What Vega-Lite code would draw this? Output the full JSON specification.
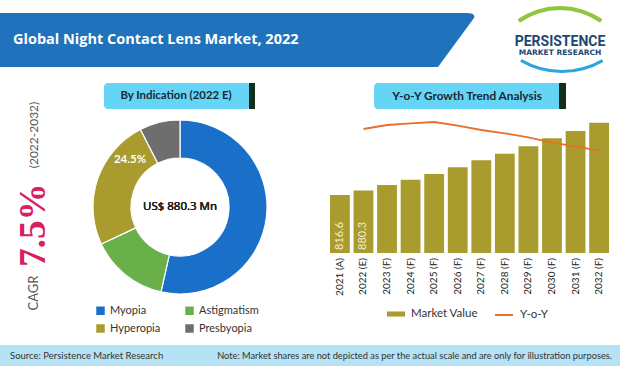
{
  "$schema": "https://vega.github.io/schema/vega-lite/v6.json",
  "width": 620,
  "height": 366,
  "autosize": {"type": "none"},
  "padding": 0,
  "background": "white",
  "config": {"view": {"stroke": null}, "font": "Lato", "legend": {"padding": 0, "labelFont": "Lato", "labelColor": "#333333", "title": null}},
  "datasets": {
    "market": [
      {"year": "2021 (A)", "value": 816.6, "yoy": null},
      {"year": "2022 (E)", "value": 880.3, "yoy": 7.8},
      {"year": "2023 (F)", "value": 956.1, "yoy": 8.2},
      {"year": "2024 (F)", "value": 1030.8, "yoy": 8.37},
      {"year": "2025 (F)", "value": 1111.4, "yoy": 8.5},
      {"year": "2026 (F)", "value": 1204.9, "yoy": 8.13},
      {"year": "2027 (F)", "value": 1303.2, "yoy": 7.7},
      {"year": "2028 (F)", "value": 1396.5, "yoy": 7.37},
      {"year": "2029 (F)", "value": 1500.3, "yoy": 6.97},
      {"year": "2030 (F)", "value": 1612.7, "yoy": 6.43},
      {"year": "2031 (F)", "value": 1715.0, "yoy": 6.07},
      {"year": "2032 (F)", "value": 1832.1, "yoy": 5.63}
    ],
    "share": [
      {"indication": "Myopia", "share": 0.535, "rank": 1},
      {"indication": "Astigmatism", "share": 0.145, "rank": 2},
      {"indication": "Hyperopia", "share": 0.245, "rank": 3},
      {"indication": "Presbyopia", "share": 0.075, "rank": 4}
    ],
    "one": [{}]
  },
  "layer": [
    {"data": {"name": "one"}, "mark": {"type": "point", "shape": "M-1,-0.1125L0.9417,-0.1125Q0.9833,-0.1125,0.975,-0.0917L0.825,0.1125L-1,0.1125Z", "size": 230400, "filled": true, "color": "#1f72bb", "opacity": 1, "strokeWidth": 0, "x": 240, "y": 40}, "encoding": {}},
    {"data": {"name": "one"}, "mark": {"type": "rule", "x": 491, "y": 22, "x2": 450, "y2": 70, "strokeWidth": 7, "strokeCap": "round", "color": "#1f72bb"}, "encoding": {}},
    {"data": {"name": "one"}, "mark": {"type": "rule", "x": 505, "y": 22, "x2": 474, "y2": 58, "strokeWidth": 6, "strokeCap": "round", "color": "#35ace4"}, "encoding": {}},
    {"data": {"name": "one"}, "mark": {"type": "text", "x": 13, "y": 40, "align": "left", "baseline": "middle", "text": "Global Night Contact Lens Market, 2022", "font": "Open Sans", "fontWeight": "bold", "fontSize": 14.5, "color": "white"}, "encoding": {}},
    {"data": {"name": "one"}, "mark": {"type": "arc", "x": 560, "y": 80, "innerRadius": 70, "outerRadius": 74, "theta": -0.61, "theta2": 0.61, "color": "#8dc63f"}, "encoding": {}},
    {"data": {"name": "one"}, "mark": {"type": "arc", "x": 562, "y": -10, "innerRadius": 80, "outerRadius": 83, "theta": 2.62, "theta2": 3.67, "color": "#2ba6df"}, "encoding": {}},
    {"data": {"name": "one"}, "mark": {"type": "text", "x": 560, "y": 46, "align": "center", "baseline": "alphabetic", "text": "PERSISTENCE", "font": "Roboto", "fontWeight": "bold", "fontSize": 14, "color": "#1d4873"}, "encoding": {}},
    {"data": {"name": "one"}, "mark": {"type": "text", "x": 560, "y": 55, "align": "center", "baseline": "alphabetic", "text": "MARKET RESEARCH", "font": "DejaVu Sans", "fontWeight": "bold", "fontSize": 7.5, "color": "#1d4873"}, "encoding": {}},
    {"data": {"name": "one"}, "mark": {"type": "rect", "x": 104, "x2": 251, "y": 83, "y2": 109, "cornerRadius": 4, "color": "#65d4f5"}, "encoding": {}},
    {"data": {"name": "one"}, "mark": {"type": "rect", "x": 249, "x2": 255, "y": 83, "y2": 109, "color": "#0f2e1c"}, "encoding": {}},
    {"data": {"name": "one"}, "mark": {"type": "text", "x": 176, "y": 96, "align": "center", "baseline": "middle", "text": "By Indication (2022 E)", "fontWeight": "bold", "fontSize": 11.4, "color": "#1b2733"}, "encoding": {}},
    {"data": {"name": "one"}, "mark": {"type": "rect", "x": 374, "x2": 561, "y": 83, "y2": 109, "cornerRadius": 4, "color": "#65d4f5"}, "encoding": {}},
    {"data": {"name": "one"}, "mark": {"type": "rect", "x": 559, "x2": 566, "y": 83, "y2": 109, "color": "#0f2e1c"}, "encoding": {}},
    {"data": {"name": "one"}, "mark": {"type": "text", "x": 467, "y": 96, "align": "center", "baseline": "middle", "text": "Y-o-Y Growth Trend Analysis", "fontWeight": "bold", "fontSize": 11.8, "color": "#1b2733"}, "encoding": {}},
    {"data": {"name": "one"}, "mark": {"type": "text", "x": 38, "y": 135, "angle": 270, "align": "center", "baseline": "alphabetic", "text": "(2022-2032)", "fontSize": 12, "color": "#555555"}, "encoding": {}},
    {"data": {"name": "one"}, "mark": {"type": "text", "x": 45, "y": 225, "angle": 270, "align": "center", "baseline": "alphabetic", "text": "7.5%", "font": "Liberation Serif", "fontWeight": "bold", "fontSize": 37, "color": "#d81f64"}, "encoding": {}},
    {"data": {"name": "one"}, "mark": {"type": "text", "x": 38, "y": 293, "angle": 270, "align": "center", "baseline": "alphabetic", "text": "CAGR", "fontSize": 13, "color": "#555555"}, "encoding": {}},
    {"data": {"name": "one"}, "mark": {"type": "rect", "x": 0, "x2": 620, "y": 345, "y2": 366, "color": "#b5e2f4"}, "encoding": {}},
    {"data": {"name": "one"}, "mark": {"type": "text", "x": 10, "y": 356, "align": "left", "baseline": "middle", "text": "Source: Persistence Market Research", "fontSize": 9.5, "color": "#333333"}, "encoding": {}},
    {"data": {"name": "one"}, "mark": {"type": "text", "x": 612, "y": 356, "align": "right", "baseline": "middle", "text": "Note: Market shares are not depicted as per the actual scale and are only for illustration purposes.", "fontSize": 9.25, "color": "#333333"}, "encoding": {}},
    {
      "data": {"name": "share"},
      "layer": [
        {
          "mark": {"type": "arc", "x": 180, "y": 207, "innerRadius": 49, "outerRadius": 87, "stroke": "white", "strokeWidth": 1.2},
          "encoding": {
            "theta": {"field": "share", "type": "quantitative", "stack": true},
            "order": {"field": "rank", "type": "quantitative"},
            "color": {
              "field": "indication", "type": "nominal",
              "scale": {"domain": ["Myopia", "Hyperopia", "Astigmatism", "Presbyopia"], "range": ["#1a6fc9", "#a99b2d", "#6ab04a", "#6e6e6e"]},
              "legend": {"orient": "none", "legendX": 95, "legendY": 305, "columns": 2, "symbolType": "square", "symbolSize": 72, "symbolStrokeWidth": 0, "labelFontSize": 11, "columnPadding": 23, "rowPadding": 6, "labelOffset": 4}
            }
          }
        },
        {
          "transform": [{"filter": "datum.indication == 'Hyperopia'"}],
          "mark": {"type": "text", "x": 130, "y": 160, "align": "center", "baseline": "middle", "fontSize": 11.5, "fontWeight": "bold", "color": "white"},
          "encoding": {"text": {"field": "share", "type": "quantitative", "format": ".1%"}}
        },
        {
          "mark": {"type": "text", "x": 180, "y": 207, "align": "center", "baseline": "middle", "text": "US$ 880.3 Mn", "font": "Open Sans", "fontSize": 11.5, "fontWeight": "normal", "color": "#222222"},
          "encoding": {}
        }
      ]
    },
    {
      "data": {"name": "market"},
      "encoding": {
        "x": {"field": "year", "type": "ordinal", "sort": null, "axis": null,
              "scale": {"domain": ["2021 (A)", "2022 (E)", "2023 (F)", "2024 (F)", "2025 (F)", "2026 (F)", "2027 (F)", "2028 (F)", "2029 (F)", "2030 (F)", "2031 (F)", "2032 (F)"], "range": [330, 609], "paddingInner": 0.16, "paddingOuter": 0}}
      },
      "layer": [
        {
          "mark": {"type": "bar"},
          "encoding": {
            "y": {"field": "value", "type": "quantitative", "axis": null, "scale": {"domain": [0, 1940], "range": [253, 115], "nice": false, "zero": true}},
            "color": {"datum": "Market Value", "scale": {"range": ["#a99b2d"]},
                      "legend": {"orient": "none", "legendX": 387, "legendY": 305, "symbolType": "M-1,-0.28H1V0.28H-1Z", "symbolSize": 324, "symbolStrokeWidth": 0, "labelFontSize": 11.5, "labelOffset": 6}}
          }
        },
        {
          "transform": [{"filter": "datum.year == '2021 (A)' || datum.year == '2022 (E)'"}],
          "mark": {"type": "text", "angle": 270, "align": "left", "baseline": "middle", "y": 250, "fontSize": 11, "color": "#f3eec6"},
          "encoding": {"text": {"field": "value", "type": "quantitative", "format": ".1f"}}
        },
        {
          "mark": {"type": "text", "angle": 270, "align": "right", "baseline": "middle", "y": 258, "fontSize": 10, "color": "#222222"},
          "encoding": {"text": {"field": "year", "type": "nominal"}}
        },
        {
          "transform": [{"filter": "datum.yoy != null"}],
          "mark": {"type": "line", "strokeWidth": 1.8},
          "encoding": {
            "y": {"field": "yoy", "type": "quantitative", "axis": null, "scale": {"domain": [-4.6, 9.2], "range": [253, 115], "nice": false, "zero": false}},
            "color": {"datum": "Y-o-Y", "scale": {"range": ["#e8702a"]},
                      "legend": {"orient": "none", "legendX": 494, "legendY": 305, "symbolType": "stroke", "symbolSize": 324, "symbolStrokeWidth": 2, "labelFontSize": 11.5, "labelOffset": 6}}
          }
        }
      ],
      "resolve": {"scale": {"y": "independent", "color": "independent"}}
    }
  ],
  "resolve": {"scale": {"x": "independent", "y": "independent", "color": "independent", "theta": "independent"}}
}
